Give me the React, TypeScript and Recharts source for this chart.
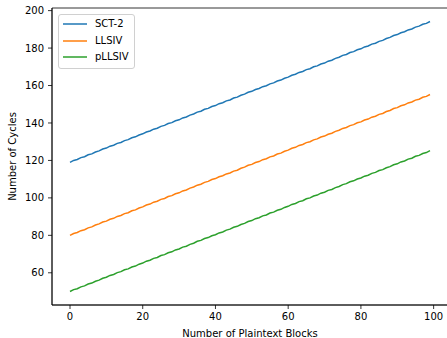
import { Line, LineChart, ReferenceArea, XAxis, YAxis } from 'recharts';

// x values: number of plaintext blocks
const blocks = [
  0, 1, 2, 3, 4, 5, 6, 7, 8, 9, 10, 11, 12, 13, 14, 15, 16, 17, 18, 19,
  20, 21, 22, 23, 24, 25, 26, 27, 28, 29, 30, 31, 32, 33, 34, 35, 36, 37, 38, 39,
  40, 41, 42, 43, 44, 45, 46, 47, 48, 49, 50, 51, 52, 53, 54, 55, 56, 57, 58, 59,
  60, 61, 62, 63, 64, 65, 66, 67, 68, 69, 70, 71, 72, 73, 74, 75, 76, 77, 78, 79,
  80, 81, 82, 83, 84, 85, 86, 87, 88, 89, 90, 91, 92, 93, 94, 95, 96, 97, 98, 99,
];

const sct2 = [
  119, 120, 120.5, 121.5, 122, 123, 123.5, 124.5, 125.1, 126.1, 126.6, 127.6, 128.1, 129.1, 129.6, 130.6,
  131.1, 132.1, 132.6, 133.6, 134.2, 135.2, 135.7, 136.7, 137.2, 138.2, 138.7, 139.7, 140.2, 141.2, 141.7,
  142.7, 143.2, 144.2, 144.8, 145.8, 146.3, 147.3, 147.8, 148.8, 149.3, 150.3, 150.8, 151.8, 152.3, 153.3,
  153.8, 154.8, 155.4, 156.4, 156.9, 157.9, 158.4, 159.4, 159.9, 160.9, 161.4, 162.4, 162.9, 163.9, 164.5,
  165.5, 166, 167, 167.5, 168.5, 169, 170, 170.5, 171.5, 172, 173, 173.5, 174.5, 175.1, 176.1, 176.6, 177.6,
  178.1, 179.1, 179.6, 180.6, 181.1, 182.1, 182.6, 183.6, 184.1, 185.1, 185.7, 186.7, 187.2, 188.2, 188.7,
  189.7, 190.2, 191.2, 191.7, 192.7, 193.2, 194.2,
];

const llsiv = [
  80, 81, 81.5, 82.5, 83, 84, 84.5, 85.5, 86.1, 87.1, 87.6, 88.6, 89.1, 90.1, 90.6, 91.6, 92.1, 93.1, 93.6,
  94.6, 95.2, 96.2, 96.7, 97.7, 98.2, 99.2, 99.7, 100.7, 101.2, 102.2, 102.7, 103.7, 104.2, 105.2, 105.8,
  106.8, 107.3, 108.3, 108.8, 109.8, 110.3, 111.3, 111.8, 112.8, 113.3, 114.3, 114.8, 115.8, 116.4, 117.4,
  117.9, 118.9, 119.4, 120.4, 120.9, 121.9, 122.4, 123.4, 123.9, 124.9, 125.5, 126.5, 127, 128, 128.5, 129.5,
  130, 131, 131.5, 132.5, 133, 134, 134.5, 135.5, 136.1, 137.1, 137.6, 138.6, 139.1, 140.1, 140.6, 141.6,
  142.1, 143.1, 143.6, 144.6, 145.1, 146.1, 146.7, 147.7, 148.2, 149.2, 149.7, 150.7, 151.2, 152.2, 152.7,
  153.7, 154.2, 155.2,
];

const pllsiv = [
  50, 51, 51.5, 52.5, 53, 54, 54.5, 55.5, 56.1, 57.1, 57.6, 58.6, 59.1, 60.1, 60.6, 61.6, 62.1, 63.1, 63.6,
  64.6, 65.2, 66.2, 66.7, 67.7, 68.2, 69.2, 69.7, 70.7, 71.2, 72.2, 72.7, 73.7, 74.2, 75.2, 75.8, 76.8, 77.3,
  78.3, 78.8, 79.8, 80.3, 81.3, 81.8, 82.8, 83.3, 84.3, 84.8, 85.8, 86.4, 87.4, 87.9, 88.9, 89.4, 90.4, 90.9,
  91.9, 92.4, 93.4, 93.9, 94.9, 95.5, 96.5, 97, 98, 98.5, 99.5, 100, 101, 101.5, 102.5, 103, 104, 104.5,
  105.5, 106.1, 107.1, 107.6, 108.6, 109.1, 110.1, 110.6, 111.6, 112.1, 113.1, 113.6, 114.6, 115.1, 116.1,
  116.7, 117.7, 118.2, 119.2, 119.7, 120.7, 121.2, 122.2, 122.7, 123.7, 124.2, 125.2,
];

const xTicks = [0, 20, 40, 60, 80, 100];
const yTicks = [60, 80, 100, 120, 140, 160, 180, 200];

const xDomain: [number, number] = [-4.95, 103.95];
const yDomain: [number, number] = [42.8, 201.4];

const series = [
  { key: 'sct2', name: 'SCT-2', color: '#1f77b4' },
  { key: 'llsiv', name: 'LLSIV', color: '#ff7f0e' },
  { key: 'pllsiv', name: 'pLLSIV', color: '#2ca02c' },
];

const data = blocks.map((b, i) => ({
  blocks: b,
  sct2: sct2[i],
  llsiv: llsiv[i],
  pllsiv: pllsiv[i],
}));

const font = 'DejaVu Sans, sans-serif';
const tickStyle = { fontSize: 10, fill: '#000', fontFamily: font };

const LegendBox = () => (
  <div
    style={{
      position: 'absolute',
      left: 58,
      top: 14,
      boxSizing: 'border-box',
      width: 77,
      border: '1px solid #d0d0d0',
      borderRadius: 3,
      background: 'rgba(255,255,255,0.8)',
      padding: '1px 0 2px 4px',
      fontFamily: font,
      fontSize: 10,
      color: '#000',
    }}
  >
    {series.map((s) => (
      <div key={s.key} style={{ display: 'flex', alignItems: 'center', height: 16.5 }}>
        <svg width={24} height={4} style={{ marginRight: 8, flexShrink: 0 }}>
          <line x1={0} y1={2} x2={24} y2={2} stroke={s.color} strokeWidth={1.5} />
        </svg>
        <span style={{ lineHeight: '12px' }}>{s.name}</span>
      </div>
    ))}
  </div>
);

export default function App() {
  return (
    <div style={{ position: 'absolute', left: 0, top: 0, width: 447, height: 338, overflow: 'hidden', background: '#fff' }}>
      <LineChart width={450} height={338} data={data} margin={{ top: 8, right: 2, left: 0, bottom: 0 }}>
        <XAxis
          dataKey="blocks"
          type="number"
          domain={xDomain}
          ticks={xTicks}
          allowDataOverflow
          height={33}
          tickSize={4}
          tickMargin={4}
          tick={tickStyle}
          axisLine={{ stroke: '#000', strokeWidth: 0.8 }}
          tickLine={{ stroke: '#000', strokeWidth: 0.8 }}
          label={{ value: 'Number of Plaintext Blocks', position: 'insideBottom', offset: 1, style: { ...tickStyle } }}
        />
        <YAxis
          type="number"
          domain={yDomain}
          ticks={yTicks}
          allowDataOverflow
          width={52}
          tickSize={4}
          tickMargin={4}
          tick={tickStyle}
          axisLine={{ stroke: '#000', strokeWidth: 0.8 }}
          tickLine={{ stroke: '#000', strokeWidth: 0.8 }}
          label={{
            value: 'Number of Cycles',
            angle: -90,
            position: 'insideLeft',
            offset: 12,
            style: { ...tickStyle, textAnchor: 'middle' },
          }}
        />
        <ReferenceArea
          x1={xDomain[0]}
          x2={xDomain[1]}
          y1={yDomain[0]}
          y2={yDomain[1]}
          fill="none"
          stroke="#000"
          strokeWidth={0.8}
          ifOverflow="visible"
        />
        {series.map((s) => (
          <Line
            key={s.key}
            type="linear"
            dataKey={s.key}
            name={s.name}
            stroke={s.color}
            strokeWidth={1.5}
            dot={false}
            isAnimationActive={false}
          />
        ))}
      </LineChart>
      <LegendBox />
    </div>
  );
}
